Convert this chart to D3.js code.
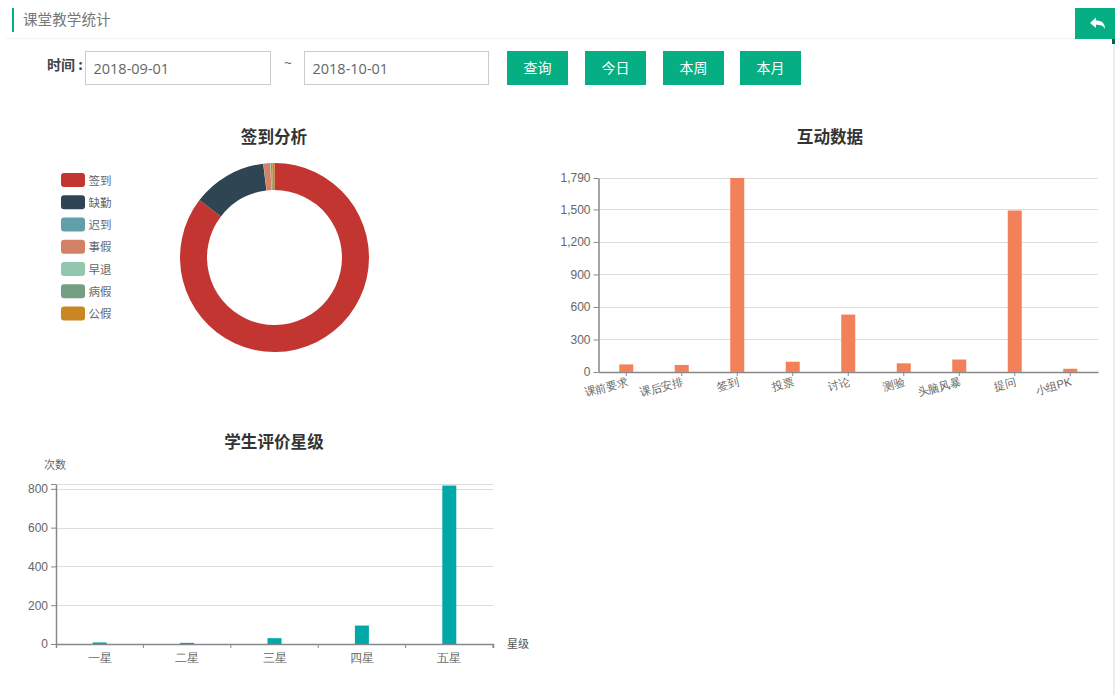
<!DOCTYPE html>
<html>
<head>
<meta charset="utf-8">
<title>课堂教学统计</title>
<script src="https://cdn.jsdelivr.net/npm/d3@7"></script>
<style>
  html, body { margin: 0; padding: 0; background: #fff; overflow: hidden; }
  svg { display: block; font-family: "Noto Sans CJK SC", "Open Sans", sans-serif; }
  .chart-title { font-size: 16.6px; font-weight: bold; fill: #333; text-anchor: middle; }
  .grid line { stroke: #ddd; }
  .axis text { font-size: 12px; fill: #666; }
  .axis path, .axis line { stroke: #888; }
</style>
</head>
<body>
<div id="page"></div>
<script>
// 日期和按钮
const dateValues = ['2018-09-01', '2018-10-01'];
const buttonLabels = ['查询', '今日', '本周', '本月'];

// 签到分析
const attendNames = ['签到', '缺勤', '迟到', '事假', '早退', '病假', '公假'];
const attendValues = [1790, 266, 1, 24, 2, 5, 8];
const attendColors = ['#c23531', '#2f4554', '#61a0a8', '#d48265', '#91c7ae', '#749f83', '#ca8622'];

// 互动数据
const actNames = ['课前要求', '课后安排', '签到', '投票', '讨论', '测验', '头脑风暴', '提问', '小组PK'];
const actValues = [70, 65, 1790, 95, 530, 80, 115, 1490, 30];
const actTicks = [0, 300, 600, 900, 1200, 1500, 1790];

// 学生评价星级
const starNames = ['一星', '二星', '三星', '四星', '五星'];
const starValues = [8, 6, 30, 95, 817];
const starTicks = [0, 200, 400, 600, 800, 825];

const green = '#06ae84';
const svg = d3.select('#page').append('svg').attr('width', 1115).attr('height', 695);

// 顶部标题栏
svg.append('rect').attr('x', 12).attr('y', 8).attr('width', 2).attr('height', 24).attr('fill', green);
svg.append('text').attr('x', 23).attr('y', 25).attr('font-size', 14.6).attr('fill', '#777').text('课堂教学统计');
svg.append('line').attr('x1', 6).attr('x2', 1115).attr('y1', 38.5).attr('y2', 38.5).attr('stroke', '#f2f2f2');
svg.append('rect').attr('x', 1075).attr('y', 8).attr('width', 40).attr('height', 31).attr('fill', green);
svg.append('path').attr('d', 'M1090 23 L1096 17.5 L1096 20.5 C1101 20.5 1105 22.5 1105 29 C1103 25.5 1100 24.8 1096 24.8 L1096 28 Z').attr('fill', '#fff');
svg.append('rect').attr('x', 1112).attr('y', 39).attr('width', 3).attr('height', 5).attr('fill', '#0b5e49');
svg.append('rect').attr('x', 1113).attr('y', 44).attr('width', 2).attr('height', 651).attr('fill', '#eee');

// 查询条件
svg.append('text').attr('x', 47).attr('y', 70).attr('font-size', 14).attr('font-weight', 'bold').attr('fill', '#444').text('时间 :');
svg.append('text').attr('x', 284).attr('y', 68).attr('font-size', 14).attr('fill', '#666').attr('font-family', 'Open Sans').text('~');

const inputX = d3.scaleOrdinal().domain(dateValues).range([85, 304]);
const inputW = d3.scaleOrdinal().domain(dateValues).range([185, 184]);
const dates = svg.selectAll('.date').data(dateValues).enter().append('g').attr('class', 'date');
dates.append('rect').attr('x', d => inputX(d) + 0.5).attr('y', 51.5).attr('width', d => inputW(d)).attr('height', 33)
  .attr('fill', '#fff').attr('stroke', '#ccc');
dates.append('text').attr('x', d => inputX(d) + 8.5).attr('y', 74).attr('font-size', 14.5).attr('fill', '#666')
  .attr('font-family', 'Open Sans').text(d => d);

const buttonX = d3.scaleOrdinal().domain(buttonLabels).range([507, 585, 663, 740]);
const buttons = svg.selectAll('.btn').data(buttonLabels).enter().append('g').attr('class', 'btn');
buttons.append('rect').attr('x', d => buttonX(d)).attr('y', 51).attr('width', 61).attr('height', 34).attr('fill', green);
buttons.append('text').attr('x', d => buttonX(d) + 30.5).attr('y', 73).attr('text-anchor', 'middle')
  .attr('font-size', 14).attr('fill', '#fff').text(d => d);

// 环形图
svg.append('text').attr('class', 'chart-title').attr('x', 274).attr('y', 142.5).text('签到分析');
const pie = d3.pie().sort(null);
const arc = d3.arc().innerRadius(67.5).outerRadius(94.5);
svg.append('g').attr('transform', 'translate(274.5,257.5)')
  .selectAll('path').data(pie(attendValues)).enter().append('path')
  .attr('d', arc).attr('fill', (d, i) => attendColors[i]);

const legendY = d3.scalePoint().domain(attendNames).range([180, 313.5]);
const legend = svg.selectAll('.legend').data(attendNames).enter().append('g').attr('class', 'legend')
  .attr('transform', d => `translate(61,${legendY(d)})`);
legend.append('rect').attr('y', -7).attr('width', 24).attr('height', 14).attr('rx', 3)
  .attr('fill', (d, i) => attendColors[i]);
legend.append('text').attr('x', 27.5).attr('y', 4.5).attr('font-size', 11.5).attr('fill', '#666').text(d => d);

// 柱状图
function drawBars(opt) {
  const g = svg.append('g');
  const x = d3.scaleBand().domain(opt.names).range([opt.left, opt.right]);
  const y = d3.scaleLinear().domain([0, opt.max]).range([opt.bottom, opt.top]);

  g.append('g').attr('class', 'grid').selectAll('line')
    .data(opt.ticks.filter(d => d > 0)).enter().append('line')
    .attr('x1', opt.left).attr('x2', opt.right)
    .attr('y1', d => Math.round(y(d)) + 0.5).attr('y2', d => Math.round(y(d)) + 0.5);

  const yAxis = d3.axisLeft(y).tickValues(opt.ticks).tickSize(5).tickSizeOuter(0)
    .tickFormat(d => opt.hideTick === d ? '' : d3.format(',')(d));
  g.append('g').attr('class', 'axis').attr('transform', `translate(${opt.left},0)`).call(yAxis)
    .select('.domain').attr('stroke-width', 1.5);

  const xAxis = d3.axisBottom(x).tickSizeOuter(opt.outerTick).tickSizeInner(4);
  const xg = g.append('g').attr('class', 'axis').attr('transform', `translate(0,${opt.bottom})`).call(xAxis);
  xg.select('.domain').attr('stroke-width', 1.5);
  opt.styleX(xg, x);

  // 柱子盖在坐标轴上面
  g.selectAll('.bar').data(opt.values).enter().append('rect').attr('class', 'bar')
    .attr('x', (d, i) => x(opt.names[i]) + x.bandwidth() / 2 - 7)
    .attr('y', d => y(d))
    .attr('width', 14)
    .attr('height', d => opt.bottom - y(d))
    .attr('fill', opt.color);
}

svg.append('text').attr('class', 'chart-title').attr('x', 830).attr('y', 142.5).text('互动数据');
drawBars({
  names: actNames, values: actValues, ticks: actTicks, max: 1790, color: '#f2815a',
  left: 598.5, right: 1098, top: 178, bottom: 372, outerTick: 0,
  styleX: (xg) => {
    xg.selectAll('.tick text')
      .attr('text-anchor', 'end').attr('y', 0).attr('dy', 0)
      .style('font-size', '11.2px')
      .attr('transform', 'translate(2,13) rotate(-15)');
  }
});

svg.append('text').attr('class', 'chart-title').attr('x', 274).attr('y', 447.5).text('学生评价星级');
svg.append('text').attr('x', 44).attr('y', 469).attr('font-size', 11).attr('fill', '#666').text('次数');
svg.append('text').attr('x', 507).attr('y', 648).attr('font-size', 11).attr('fill', '#555').text('星级');
drawBars({
  names: starNames, values: starValues, ticks: starTicks, max: 825, hideTick: 825, color: '#00a8a8',
  left: 56, right: 493, top: 484, bottom: 644, outerTick: 4,
  styleX: (xg, x) => {
    // 星级的刻度在两个类目之间
    xg.selectAll('.tick line').attr('transform', `translate(${x.bandwidth() / 2},0)`);
    xg.selectAll('.tick text').attr('y', 9).attr('fill', '#444');
  }
});
</script>
</body>
</html>
